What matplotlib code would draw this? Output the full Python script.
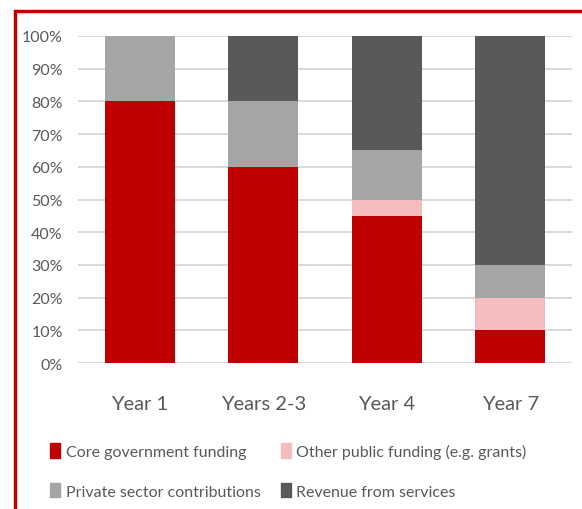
import numpy as np
import matplotlib
matplotlib.use("Agg")
import matplotlib.pyplot as plt
from matplotlib.patches import Rectangle, Patch

plt.rcParams['font.family'] = ['Lato', 'DejaVu Sans']

# Daten (Anteile in %)
categories = ['Year 1', 'Years 2-3', 'Year 4', 'Year 7']
core_gov = [80, 60, 45, 10]
other_public = [0, 0, 5, 10]
private_sector = [20, 20, 15, 10]
revenue = [0, 20, 35, 70]

series_names = ['Core government funding', 'Other public funding (e.g. grants)',
                'Private sector contributions', 'Revenue from services']
series_vals = [core_gov, other_public, private_sector, revenue]
colors = ['#C00000', '#F4BCBD', '#A5A5A5', '#595959']

fig = plt.figure(figsize=(5.82, 5.10), dpi=100)
ax = fig.add_axes([78/582, 1 - 364/510, (572-78)/582, (364-37)/510])

x = np.arange(len(categories))
bottom = np.zeros(len(categories))
for name, vals, c in zip(series_names, series_vals, colors):
    ax.bar(x, vals, 0.57, bottom=bottom, color=c, label=name, zorder=3)
    bottom += np.array(vals)

ax.set_xlim(-0.5, 3.5)
ax.set_ylim(0, 100)
ax.set_yticks(np.arange(0, 101, 10))
ax.set_yticklabels([f'{v}%' for v in range(0, 101, 10)], fontsize=11.5, color='#595959')
ax.set_xticks(x)
ax.set_xticklabels(categories, fontsize=14.5, color='#595959')
ax.tick_params(axis='both', length=0)
ax.tick_params(axis='x', pad=23)
ax.tick_params(axis='y', pad=11)
ax.grid(axis='y', color='#D9D9D9', linewidth=1.4, zorder=0)
for s in ax.spines.values():
    s.set_visible(False)

# Legende: Zeile 1 Core / Other, Zeile 2 Private / Revenue
handles = [Patch(color=c) for c in colors]
order = [0, 2, 1, 3]
fig.legend([handles[i] for i in order], [series_names[i] for i in order],
           ncol=2, loc='upper left', bbox_to_anchor=(36/582, 1 - 430/510),
           frameon=False, fontsize=11.5, handlelength=0.6, handleheight=1.0,
           handletextpad=0.35, columnspacing=1.3, labelspacing=1.5,
           labelcolor='#595959')

# roter Rahmen
fig.add_artist(Rectangle((15/582, -0.05), 1.2, 1 - 12/510 + 0.05,
                         transform=fig.transFigure, fill=False,
                         edgecolor='#C00000', linewidth=2.5))

fig.savefig('out.png', dpi=100)
